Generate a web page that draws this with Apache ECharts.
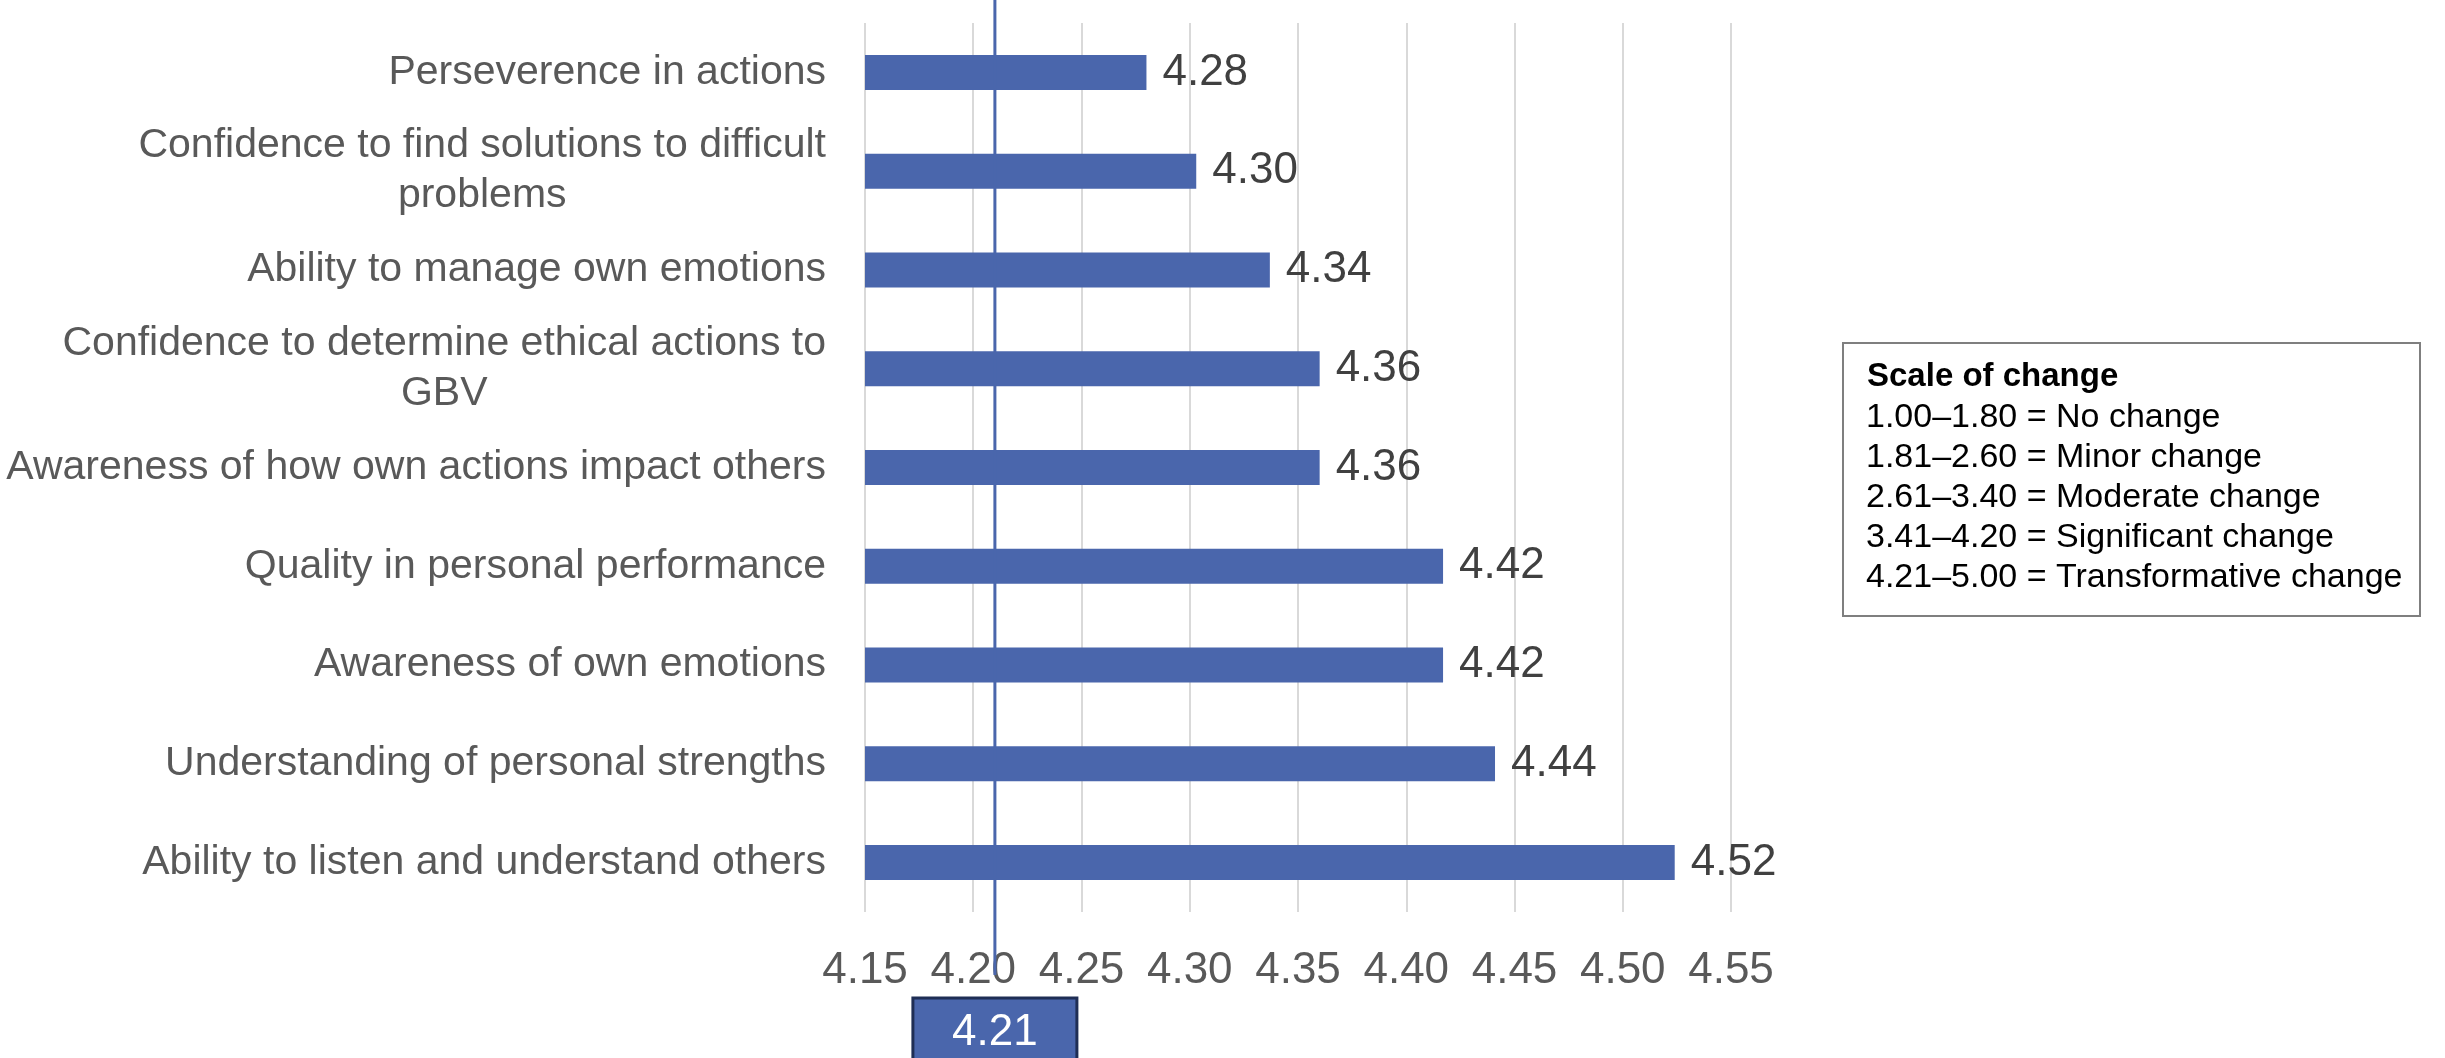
<!DOCTYPE html>
<html><head><meta charset="utf-8">
<script src="https://cdn.jsdelivr.net/npm/echarts@6/dist/echarts.min.js"></script>
<style>html,body{margin:0;padding:0;background:#fff}#c{width:2445px;height:1058px}</style>
</head><body><div id="c"></div>
<script>
const categories = [
  'Perseverence in actions',
  'Confidence to find solutions to difficult\nproblems',
  'Ability to manage own emotions',
  'Confidence to determine ethical actions to\nGBV',
  'Awareness of how own actions impact others',
  'Quality in personal performance',
  'Awareness of own emotions',
  'Understanding of personal strengths',
  'Ability to listen and understand others'
];
const values = [4.28, 4.303, 4.337, 4.36, 4.36, 4.417, 4.417, 4.441, 4.524];
const axisMin = 4.15, axisMax = 4.55, axisStep = 0.05;
const referenceValue = 4.21;
const referenceLabel = '4.21';
const scaleTitle = 'Scale of change';
const scaleLines = [
  '1.00\u20131.80 = No change',
  '1.81\u20132.60 = Minor change',
  '2.61\u20133.40 = Moderate change',
  '3.41\u20134.20 = Significant change',
  '4.21\u20135.00 = Transformative change'
];

const FONT = '"Liberation Sans", Arial, sans-serif';
const BLUE = '#4A66AC';
const chart = echarts.init(document.getElementById('c'), null, {renderer: 'canvas'});
const option = {
  animation: false,
  backgroundColor: '#ffffff',
  grid: {left: 865, right: 714, top: 23, bottom: 146, containLabel: false},
  xAxis: {
    type: 'value', min: axisMin, max: axisMax, interval: axisStep,
    axisLine: {show: false}, axisTick: {show: false},
    splitLine: {show: true, lineStyle: {color: '#D9D9D9', width: 2}},
    axisLabel: {margin: 37, fontSize: 44, color: '#595959', fontFamily: FONT,
      formatter: v => v.toFixed(2)}
  },
  yAxis: {
    type: 'category', data: categories, inverse: true,
    axisLine: {show: false}, axisTick: {show: false}, splitLine: {show: false},
    axisLabel: {margin: 39, fontSize: 41, color: '#595959', fontFamily: FONT,
      formatter: v => v.split('\n').map(s => '{c|' + s + '}').join('\n'),
      rich: {c: {fontSize: 41, color: '#595959', fontFamily: FONT, align: 'center', lineHeight: 50}}}
  },
  series: [{
    type: 'bar', data: values, barWidth: 35,
    itemStyle: {color: BLUE},
    label: {show: true, position: 'right', distance: 16, fontSize: 44, color: '#404040',
      fontFamily: FONT, formatter: p => p.value.toFixed(2)}
  }]
};
chart.setOption(option);

const rx = chart.convertToPixel({xAxisIndex: 0}, referenceValue);
const graphics = [
  {type: 'line', z: 100, shape: {x1: rx, y1: 0, x2: rx, y2: 975}, style: {stroke: BLUE, lineWidth: 3}},
  {type: 'rect', z: 100, shape: {x: rx - 82, y: 998, width: 164, height: 80},
    style: {fill: BLUE, stroke: '#1F2E55', lineWidth: 3}},
  {type: 'text', z: 101, x: rx, y: 1033, style: {text: referenceLabel, fill: '#ffffff',
    font: '44px ' + FONT, align: 'center', verticalAlign: 'middle'}},
  {type: 'rect', z: 100, shape: {x: 1843, y: 343, width: 577, height: 273},
    style: {fill: '#ffffff', stroke: '#7F7F7F', lineWidth: 2}},
  {type: 'text', z: 101, x: 1867, y: 377, style: {text: scaleTitle, fill: '#000000',
    font: 'bold 33px ' + FONT, align: 'left', verticalAlign: 'middle'}}
];
scaleLines.forEach((t, i) => {
  graphics.push({type: 'text', z: 101, x: 1866, y: 418 + i * 40, style: {text: t, fill: '#000000',
    font: '34px ' + FONT, align: 'left', verticalAlign: 'middle'}});
});
chart.setOption({graphic: graphics});
</script></body></html>
